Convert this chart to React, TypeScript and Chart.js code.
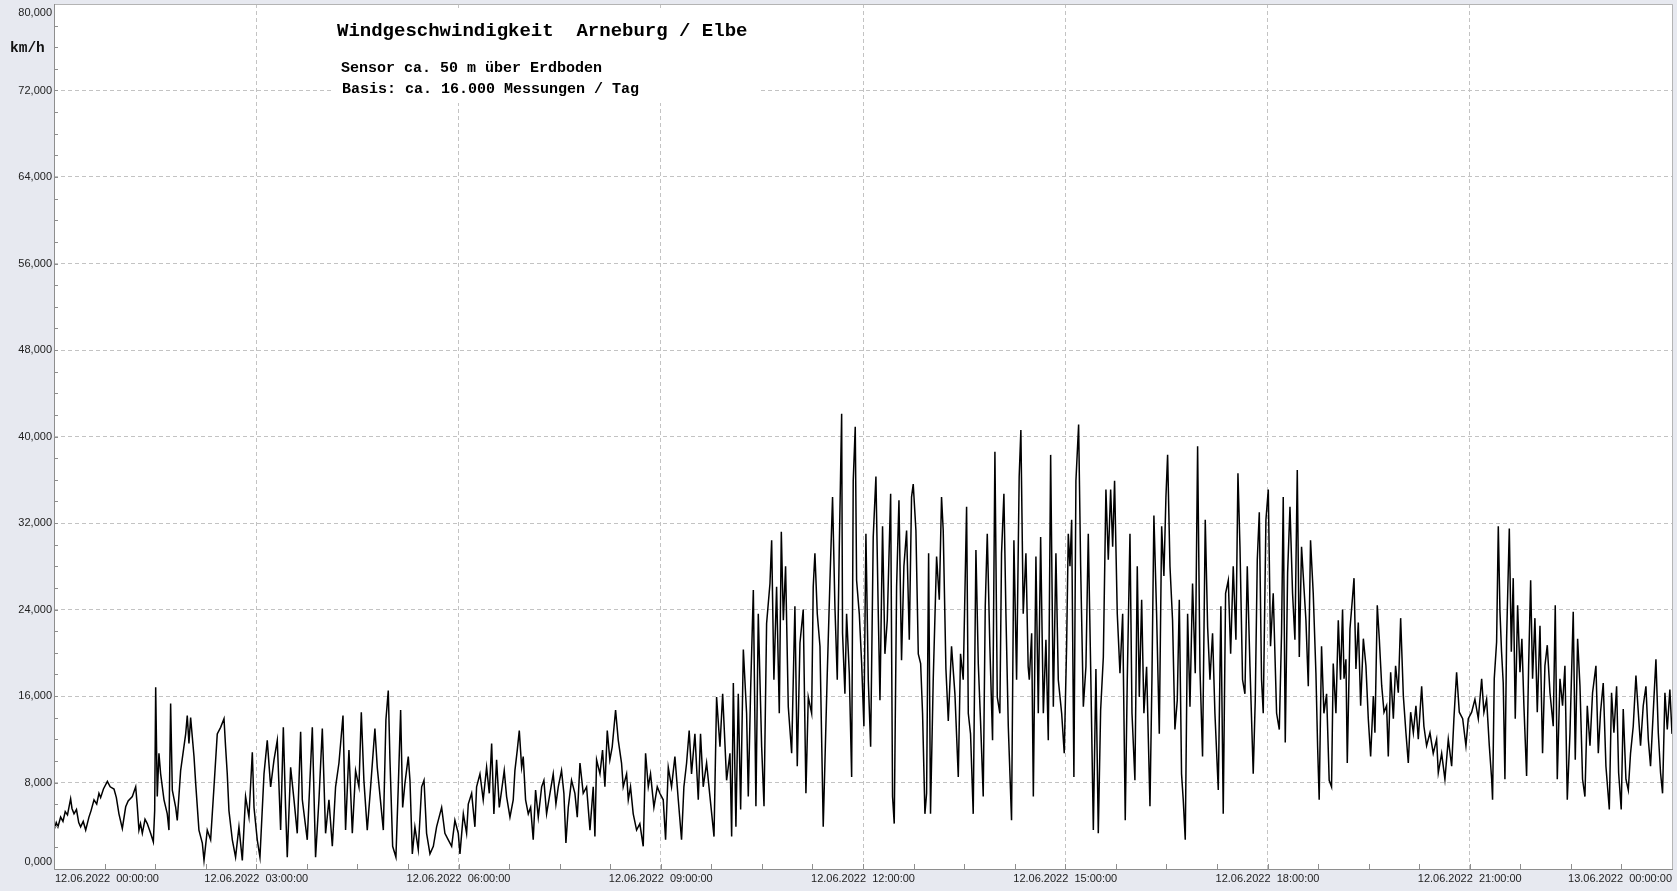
import React, { useEffect, useRef } from "react";
import { Chart, registerables } from "chart.js";

Chart.register(...registerables);

// ---- text ----
const titleText = "Windgeschwindigkeit  Arneburg / Elbe";
const subtitleLines = ["Sensor ca. 50 m über Erdboden", "Basis: ca. 16.000 Messungen / Tag"];
const unitLabel = "km/h";

// ---- axis ticks ----
const yTickValues = [0, 8000, 16000, 24000, 32000, 40000, 48000, 56000, 64000, 72000, 80000];
const yTickLabels = ["0,000", "8,000", "16,000", "24,000", "32,000", "40,000", "48,000", "56,000", "64,000", "72,000", "80,000"];
const xTickMinutes = [0, 180, 360, 540, 720, 900, 1080, 1260, 1440];
const xTickLabels = [
  "12.06.2022  00:00:00",
  "12.06.2022  03:00:00",
  "12.06.2022  06:00:00",
  "12.06.2022  09:00:00",
  "12.06.2022  12:00:00",
  "12.06.2022  15:00:00",
  "12.06.2022  18:00:00",
  "12.06.2022  21:00:00",
  "13.06.2022  00:00:00",
];

// ---- data: [minutes after 12.06.2022 00:00, km/h] ----
const windNight: [number, number][] = [
  [0,3600],[2,4300],[3.5,3900],[5.9,4800],[8,4400],[10,5300],[12,5000],[14.8,6500],[16,5600],[17.8,5100],
  [20,5500],[22,4300],[23.7,3900],[26,4400],[28.2,3600],[31.1,4800],[33,5400],[35.6,6400],[38,6000],[40,7000],
  [41.5,6600],[44,7400],[47.5,8100],[50,7600],[53.4,7400],[55.5,6600],[57.8,5100],[60.8,3750],[63.8,5750],[66,6300],
  [69.7,6700],[72.7,7600],[74,6000],[75.6,3600],[77,4200],[78.6,3300],[81,4600],[83,4200],[86,3300],[88.4,2500],
  [89.6,5400],[90.5,16800],[91.9,6700],[93.4,10700],[94.9,8800],[97.9,6400],[100.8,5100],[102.3,3600],[103.8,15300],[105.3,7300],
  [108.3,5700],[109.7,4500],[112.7,9100],[117.2,12500],[118.6,14200],[120.1,11600],[121.6,14000],[124.6,10400],[126.1,7900],[129,3600],
  [132,2400],[133.5,800],[136.4,3600],[139.4,2700],[142.4,7600],[145.3,12500],[148.3,13100],[151.3,13900],[152.7,11300],[154.2,8800],
  [155.7,5400],[158.7,2700],[161.6,1100],[164.6,3900],[167.6,800],[170.5,6700],[173.5,4800],[176.5,10800],[178,5700],[180.9,2700],
  [183.3,1100],[186.9,8800],[189.8,11900],[192.8,7600],[195.8,10100],[198.7,11900],[201.7,3600],[204.1,13100],[206.1,5700],[207.6,1100],
  [210.6,9400],[213.6,6400],[216.5,3300],[219.5,12700],[221,6400],[225.4,2700],[229.9,13100],[232.8,1100],[235.8,6400],[238.8,13000],
  [241.7,3300],[244.7,6400],[247.7,2100],[250.6,7600],[253.6,9800],[257.2,14200],[259.5,3600],[262.5,11000],[265.5,3300],[268.4,9100],
  [271.4,7600],[273.5,14500],[275.8,8200],[278.8,3600],[281.8,7600],[285.6,13000],[287.7,9400],
];

const windMorning: [number, number][] = [
  [293.1,3600],[295.4,13800],[297.5,16500],[299,10100],[301.4,2100],[304.3,1100],[306.4,7600],[308.5,14700],[310.3,5700],[312.3,7900],
  [315.3,10400],[316.8,8200],[318.9,1400],[321.2,3900],[324.2,1800],[327.2,7600],[329.3,8200],[331.6,3300],[334.6,1400],[337.6,2100],
  [340.5,3900],[343.5,5100],[345,5700],[347.9,3300],[350.9,2700],[353.9,2100],[356.8,4500],[359.8,3300],[361.3,1400],[364.3,5100],
  [367.2,3300],[368.7,6000],[371.7,7000],[374.6,3900],[376.1,7600],[379.1,8800],[382,6400],[385,9400],[387.4,7000],[389.5,11600],
  [391.5,5100],[393.9,10100],[396.3,5700],[398.4,7300],[400.7,9100],[402.8,6700],[405.8,4800],[408.7,6400],[410.2,9100],[412.3,11000],
  [414.1,12800],[416.2,9400],[417.6,10400],[419.7,6400],[422.1,5100],[424.2,5700],[426.5,2700],[428.6,7300],[431,4800],[434,7600],
  [436,8200],[438.4,5100],[441.4,7000],[444.3,8800],[446.7,6000],[448.8,7600],[451.7,9100],[453.8,7000],[455.6,2400],[457.7,5700],
  [460.6,8200],[463.6,7000],[465.7,4800],[468.1,9800],[471,7000],[474,7600],[477,3600],[479.9,7600],[481.4,3000],[482.9,10100],
  [485.9,8800],[488.2,11000],[490.3,7600],[492.4,12800],[494.7,10100],[496.8,11300],[499.8,14700],[502.2,11900],[505.1,9800],[506.6,7600],
  [509.6,8800],[511.1,6400],[513.1,7600],[515.5,5100],[518.5,3600],[521.4,4200],[524.4,2100],[526.5,10700],[528.9,7600],[530.9,8800],
  [533.9,5700],[536.9,7600],[539.2,7000],[542.2,6400],[544.3,2700],[546.7,9400],[549.6,7600],[552.6,10400],[555.6,6400],[558.5,2700],
  [560.6,7600],[563,9800],[565.3,12800],[567.4,8800],[570.4,12500],[573.4,6400],[575.4,12500],[577.8,7600],
];

const windMidday: [number, number][] = [
  [580.8,9800],[583.8,6700],[587.4,3000],[589.7,15900],[592.7,11300],[595.1,16200],[598.6,8200],[601.6,10700],[603.1,3000],[604.6,17200],
  [606.9,3900],[609,16200],[611.1,5500],[613.5,20300],[616.4,14400],[617.9,6700],[620,16600],[622.4,25800],[624.7,5800],[626.8,23600],
  [629.8,11300],[631.9,5800],[634.2,22700],[637.2,26400],[638.7,30400],[640.7,17500],[643.1,26100],[645.5,14400],[647.3,31200],[649.1,23000],
  [651.1,28000],[653.5,15000],[656.5,10700],[659.4,24300],[661.5,9500],[663.9,20900],[666.8,24000],[669.2,7000],[671.3,15900],[674.3,14400],
  [675.7,26100],[677.2,29200],[679.3,23600],[681.7,20600],[684.6,3900],[686.1,9800],[688.2,18100],[690.6,26700],[692.9,34400],[695,24300],
  [697.1,17500],[698.9,29800],[701,42100],[701.8,21800],[703.9,16200],[705.4,23600],[707.8,18100],[709.9,8500],[711.3,35900],[713.1,40900],
  [714.3,26700],[716.7,23600],[718.8,19000],[720.8,13200],[722.6,31000],[724.7,17500],[726.8,11300],[729.1,30700],[731.5,36300],[733.6,23600],
  [735.1,15600],[737.4,31700],[739.5,19900],[741.6,23000],[744.6,34700],[746.3,6700],[747.8,4200],[749.9,26100],[752,34100],[754.3,19300],
  [756.4,28000],[758.8,31300],[761.2,21200],[763.2,34400],[764.7,35600],[767.1,31300],[769.2,19900],[771.3,19000],[773,14400],[775.1,5100],
  [776.6,7000],[778.4,29200],[780.1,5100],[782.5,17500],[785.5,28900],[787.9,24900],[789.9,34400],[791.4,31300],[793.8,18500],[795.9,13700],
  [798.8,20600],[801.8,16200],[804.8,8500],[806.8,19900],[809.2,17500],[812.2,33500],[813.7,14400],[815.7,12500],[818.1,5100],[820.5,29500],
  [822.6,19000],[824.6,13700],[827,6700],[828.8,24300],[830.6,31000],[832.9,20600],[835.3,11900],[837.4,38600],[839.5,15900],[841.8,14400],
  [843.3,29200],[845.4,34700],[847.2,23600],[849.3,13200],[852.2,4500],[854.3,30400],[856.7,17500],[859,36300],[860.5,40600],[862.6,23600],
  [865,29200],[867,18700],
];

const windAfternoon: [number, number][] = [
  [868,17500],[870.1,21800],[871.6,6700],[873.9,28900],[876,14400],[878.1,30700],[880.5,14400],[882.8,21200],[884.9,11900],[887,38300],
  [889.4,15000],[891.7,29200],[893.8,17500],[896.8,14400],[899.1,10700],[901.2,20600],[902.7,31000],[904.2,28000],[905.7,32300],[907.7,8500],
  [909.5,35900],[911.9,41100],[913.7,28000],[916.1,15000],[918.4,18700],[920.5,31000],[922.6,18700],[925,3600],[927.3,18500],[929.4,3300],
  [931.5,14700],[933.9,19600],[936.2,35100],[938.3,28600],[940.4,35100],[942.2,29800],[943.9,35900],[946.3,23600],[948.7,18100],[951.1,23600],
  [953.4,4500],[955.2,17500],[957.6,31000],[959.4,14400],[962,8200],[964.1,28000],[965.9,15900],[968,24900],[970,14400],[972.4,18700],
  [975.4,5800],[977.2,17900],[978.9,32700],[981.3,23600],[983.7,12500],[985.8,31700],[987.8,27100],[989.6,34400],[991.1,38300],[993.2,28000],
  [995.5,23000],[997.6,12900],[999.7,15600],[1001.5,24900],[1003.5,8800],[1005,6400],[1006.8,2700],[1008.9,23600],[1011,15000],[1013.3,26400],
  [1015.7,18100],[1017.8,39100],[1019.9,18500],[1022.2,10400],[1024.6,32300],[1026.7,22400],[1028.8,17500],[1031.1,21800],[1033.2,14400],[1036.2,7300],
  [1038.5,24300],[1040.6,5100],[1042.7,25500],[1045.1,26700],[1047.2,19900],[1049.5,28000],[1051.9,21200],[1053.7,36600],[1055.5,29800],[1057.8,17500],
  [1059.9,16200],[1062,28000],[1064.4,18700],[1067.3,8800],[1069.1,15600],[1070.9,28600],[1072.7,33000],[1074.7,17500],[1076.2,14400],[1078.6,32300],
  [1080.7,35100],[1082.7,20600],[1085.1,25500],[1088.1,14400],[1090.5,12900],[1092.5,21800],[1094,34400],[1095.8,11700],[1097.9,27400],[1100,33500],
  [1102.3,25500],[1104.4,21200],[1106.5,36900],[1108.3,19600],[1110.3,29800],[1112.4,26100],[1114.2,23000],[1116.3,16900],[1118.3,30400],[1120.7,25500],
  [1123.1,18100],[1124.6,11300],[1126,6400],[1128.1,20600],[1130.2,14400],[1132.6,16200],[1134.9,8200],[1137,7600],[1138.5,19000],[1140.9,14400],
  [1143,23000],[1145,17500],[1146.8,24000],
];

const windEvening: [number, number][] = [
  [1148.1,17600],[1149.8,19400],[1151,9800],[1153.4,22200],[1155.8,25300],[1157,26900],[1158.7,18500],[1160.8,22800],[1162.9,15100],[1165.3,21300],
  [1167.6,18800],[1169.7,13900],[1171.8,10400],[1174.2,16000],[1175.6,12600],[1177.7,24400],[1179.5,21300],[1181.6,17000],[1183.7,14500],[1186,15100],
  [1187.5,10400],[1189.6,18200],[1192,13900],[1194,18800],[1196.4,16300],[1198.5,23200],[1200.9,16000],[1203.2,12600],[1205.3,9800],[1207.4,14500],
  [1209.8,12600],[1212.1,15100],[1214.2,12000],[1217.2,16900],[1219.2,13200],[1221.6,11400],[1224.6,12600],[1227.5,10700],[1230.5,12000],[1232,8900],
  [1235,10700],[1237.9,8300],[1240.9,12000],[1243.9,9500],[1245.9,13900],[1248.3,18200],[1250.7,14500],[1253.7,13900],[1256.6,11400],[1258.7,13900],
  [1261.7,14500],[1264.6,15700],[1267.6,13900],[1270.6,17600],[1272.6,14500],[1275,15700],[1277.4,11400],[1279.5,8300],[1280.3,6400],[1281.8,17600],
  [1283.9,21000],[1285.4,31700],[1286.9,23800],[1288.3,20100],[1289.8,17200],[1291.3,8300],[1292.8,21300],[1295.2,31500],[1297,20100],[1298.7,26900],
  [1300.5,13900],[1302.6,24400],[1304.7,18200],[1306.4,21300],[1308.2,15100],[1310.6,8600],[1312.4,18800],[1314.2,26700],[1315.9,17600],[1318,23200],
  [1320.1,14500],[1322.5,22500],[1324.8,10700],[1326.9,18800],[1329,20700],[1331.4,16300],[1334.3,13200],[1336.1,24400],[1337.9,8300],[1340.3,17600],
  [1342.6,15100],[1344.7,18800],[1346.8,6400],[1349.2,12600],[1352.1,23800],[1353.9,10100],[1356,21300],[1358.1,16900],[1360.4,8300],[1362.5,6700],
  [1364.6,15100],[1367,11400],[1369.3,16300],[1372.3,18800],[1374.4,10700],[1376.4,14500],[1378.8,17200],[1381.2,9500],[1384.2,5500],[1386.2,16300],
  [1388.3,12600],[1390.7,16900],[1392.5,8900],[1394.8,5500],[1396.6,14800],[1399,8300],[1401.1,7300],[1403.1,10700],[1405.5,13200],[1407.9,17900],
  [1410,14500],[1412,11400],[1414.4,15100],[1416.8,16900],[1418.9,12000],[1420.9,9500],[1423.3,14500],[1425.7,19400],[1427.8,12600],[1429.8,8900],
  [1431.6,7000],[1433.7,16300],[1435.8,12900],[1438.1,16600],[1440,12500],
];

const W = 1677;
const H = 891;
const PAGE_BG = "#e7e9f0";

const decorPlugin = {
  id: "decor",
  beforeDraw(chart: any) {
    const { ctx, chartArea: a } = chart;
    ctx.save();
    ctx.fillStyle = "#ffffff";
    ctx.fillRect(a.left, a.top, a.right - a.left, a.bottom - a.top);
    ctx.restore();
  },
  beforeDatasetsDraw(chart: any) {
    const { ctx } = chart;
    ctx.save();
    ctx.fillStyle = "#ffffff";
    ctx.fillRect(331, 9, 430, 94);
    ctx.fillStyle = "#000000";
    ctx.textBaseline = "middle";
    ctx.textAlign = "left";
    ctx.font = 'bold 19px "Liberation Mono", "Courier New", monospace';
    ctx.fillText(titleText, 337, 31);
    ctx.font = 'bold 15px "Liberation Mono", "Courier New", monospace';
    ctx.fillText(subtitleLines[0], 341, 68);
    ctx.fillText(subtitleLines[1], 342, 89);
    ctx.restore();
  },
  afterDraw(chart: any) {
    const { ctx, chartArea: a, scales } = chart;
    const xs = scales.x;
    const ys = scales.y;
    ctx.save();
    ctx.lineWidth = 1;
    ctx.strokeStyle = "#b4b4b4";
    ctx.beginPath();
    ctx.moveTo(a.left, a.top + 0.5);
    ctx.lineTo(a.right + 0.5, a.top + 0.5);
    ctx.lineTo(a.right + 0.5, a.bottom);
    ctx.stroke();
    ctx.strokeStyle = "#8e8e8e";
    ctx.beginPath();
    ctx.moveTo(a.left + 0.5, a.top);
    ctx.lineTo(a.left + 0.5, a.bottom + 0.5);
    ctx.lineTo(a.right + 1, a.bottom + 0.5);
    ctx.stroke();
    ctx.beginPath();
    for (let m = 45; m < 1440; m += 45) {
      const px = Math.round(xs.getPixelForValue(m)) + 0.5;
      ctx.moveTo(px, a.bottom);
      ctx.lineTo(px, a.bottom - 5);
    }
    for (let v = 2000; v < 80000; v += 2000) {
      const py = Math.round(ys.getPixelForValue(v)) + 0.5;
      ctx.moveTo(a.left, py);
      ctx.lineTo(a.left + 4, py);
    }
    ctx.stroke();
    ctx.fillStyle = "#222222";
    ctx.font = '11px "Liberation Sans", Arial, sans-serif';
    ctx.textAlign = "right";
    ctx.textBaseline = "middle";
    yTickValues.forEach((v, i) => {
      let py = ys.getPixelForValue(v);
      py = Math.min(Math.max(py, a.top + 9), a.bottom - 7);
      ctx.fillText(yTickLabels[i], a.left - 2, py);
    });
    ctx.textAlign = "left";
    xTickMinutes.forEach((m, i) => {
      const txt = xTickLabels[i];
      const w = ctx.measureText(txt).width;
      let lx = xs.getPixelForValue(m) - w / 2;
      lx = Math.max(lx, a.left + 1);
      lx = Math.min(lx, a.right - w);
      ctx.fillText(txt, lx, a.bottom + 10);
    });
    ctx.font = 'bold 14.5px "Liberation Mono", "Courier New", monospace';
    ctx.fillStyle = "#111111";
    ctx.fillText(unitLabel, 10, 48);
    ctx.restore();
  },
};

export default function App() {
  const ref = useRef<HTMLCanvasElement | null>(null);

  useEffect(() => {
    document.body.style.margin = "0";
    const canvas = ref.current;
    if (!canvas) return;
    const points = [...windNight, ...windMorning, ...windMidday, ...windAfternoon, ...windEvening].map(
      ([m, v]) => ({ x: m, y: v })
    );
    const chart = new Chart(canvas, {
      type: "line",
      data: {
        datasets: [
          {
            data: points,
            borderColor: "#000000",
            borderWidth: 1.5,
            pointRadius: 0,
            tension: 0,
            fill: false,
          },
        ],
      },
      options: {
        animation: false,
        responsive: false,
        maintainAspectRatio: false,
        parsing: false,
        layout: { padding: { left: 54, top: 4, right: 5, bottom: 22 } },
        plugins: { legend: { display: false }, tooltip: { enabled: false }, title: { display: false } },
        scales: {
          x: {
            type: "linear",
            min: 0,
            max: 1440,
            ticks: { display: false, stepSize: 180 },
            grid: { color: "#c3c3c3", lineWidth: 1, drawTicks: false },
            border: { display: false, dash: [4, 3] },
          },
          y: {
            type: "linear",
            min: 0,
            max: 80000,
            ticks: { display: false, stepSize: 8000 },
            grid: { color: "#c3c3c3", lineWidth: 1, drawTicks: false },
            border: { display: false, dash: [4, 3] },
          },
        },
      },
      plugins: [decorPlugin],
    });
    return () => chart.destroy();
  }, []);

  return (
    <div style={{ position: "absolute", left: 0, top: 0, width: W, height: H, background: PAGE_BG }}>
      <canvas ref={ref} width={W} height={H} style={{ display: "block", width: W, height: H }} />
    </div>
  );
}
